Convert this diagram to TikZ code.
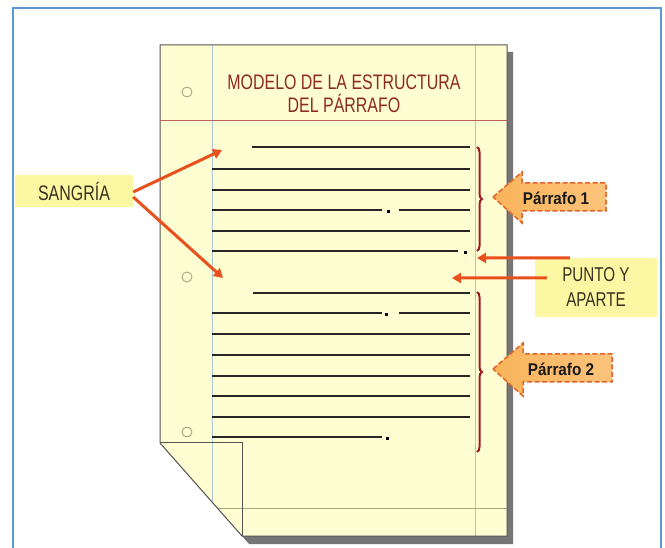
\documentclass[tikz,border=0pt]{standalone}
\usepackage{fontspec}
\setmainfont{Liberation Sans}
\newfontfamily\nf[FakeStretch=0.76]{Liberation Sans}
\newfontfamily\tagfont[FakeStretch=0.9]{Liberation Sans}
\usetikzlibrary{decorations.pathreplacing,arrows.meta}
\definecolor{frameblue}{HTML}{5B9BD5}
\definecolor{paperfill}{HTML}{FFFDD2}
\definecolor{paperedge}{HTML}{555550}
\definecolor{shadowgray}{HTML}{767676}
\definecolor{marginblue}{HTML}{A9C9D6}
\definecolor{titlered}{HTML}{8E2A22}
\definecolor{rulered}{HTML}{C0605A}
\definecolor{bracered}{HTML}{A01822}
\definecolor{arrowred}{HTML}{E8501E}
\definecolor{labelfill}{HTML}{FCF7A2}
\definecolor{labeltext}{HTML}{3A3020}
\definecolor{tagfill}{HTML}{FAB45A}
\definecolor{tagedge}{HTML}{E2642A}
\definecolor{holeedge}{HTML}{A8A888}
\definecolor{footline}{HTML}{A8A880}
\tikzset{
  textline/.style={draw=black!85, line width=1.2pt},
  dotmark/.style={fill=black},
  hole/.style={draw=holeedge, line width=0.9pt},
  margin/.style={draw=marginblue, line width=0.8pt},
  redarrow/.style={draw=arrowred, line width=3pt, -{Triangle[length=9pt,width=10pt]}},
  labelbox/.style={fill=labelfill, text=labeltext, font=\nf\fontsize{21}{24}\selectfont, align=center, inner sep=0pt},
  tagshape/.style={left color=tagfill, right color=tagfill!80!white, draw=tagedge, line width=1.5pt, dash pattern=on 5pt off 2.5pt},
  tagtext/.style={font=\tagfont\bfseries\fontsize{17}{19}\selectfont, text=black!90},
  parbrace/.style={draw=bracered, line width=2pt, decorate, decoration={brace, amplitude=5pt}}
}
\begin{document}
\begin{tikzpicture}[x=1pt,y=-1pt]
\useasboundingbox (0,0) rectangle (665,548);
\fill[white] (0,0) rectangle (665,548);
% outer frame
\draw[frameblue, line width=2pt] (13,8) rectangle (661,575);
% shadow
\fill[shadowgray] (166,52) -- (513,52) -- (513,544) -- (249,544) -- (166,450) -- cycle;
% paper
\fill[paperfill] (160,45) -- (507,45) -- (507,536) -- (242,536) -- (160,443) -- cycle;
\begin{scope}
\clip (160,45) -- (507,45) -- (507,536) -- (242,536) -- (160,443) -- cycle;
\draw[margin] (212,45) -- (212,540);
\draw[margin] (475,45) -- (475,540);
\draw[draw=footline, line width=0.9pt] (160,508) -- (507,508);
\end{scope}
\draw[paperedge, line width=1pt] (160,45) -- (507,45) -- (507,536) -- (242,536) -- (160,443) -- cycle;
\draw[paperedge, line width=1pt] (160,443) -- (242,443) -- (242,536);
% title
\draw[rulered, line width=0.9pt] (160,120) -- (507,120);
\node[text=titlered, font=\nf\fontsize{21}{23}\selectfont, align=center] (title) at (344,94) {MODELO DE LA ESTRUCTURA\\DEL PÁRRAFO};
% holes
\draw[hole] (187,92) circle (5);
\draw[hole] (187,277) circle (5);
\draw[hole] (187,432) circle (5);
% paragraph 1
\draw[textline] (252,147) -- (470,147);
\foreach \yy in {169,190,231} {\draw[textline] (212,\yy) -- (470,\yy);}
\draw[textline] (212,210) -- (382,210);
\fill[dotmark] (386.5,210.5) rectangle (389.5,213.5);
\draw[textline] (399,210) -- (470,210);
\draw[textline] (212,251) -- (458,251);
\fill[dotmark] (463.5,251.5) rectangle (466.5,254.5);
% paragraph 2
\draw[textline] (253,293) -- (470,293);
\draw[textline] (212,313) -- (382,313);
\fill[dotmark] (384.5,313.5) rectangle (387.5,316.5);
\draw[textline] (399,313) -- (470,313);
\foreach \yy in {334,355,376,396,417} {\draw[textline] (212,\yy) -- (470,\yy);}
\draw[textline] (212,437) -- (382,437);
\fill[dotmark] (385.5,437.5) rectangle (388.5,440.5);
% braces
\draw[parbrace] (477,147) -- (477,251);
\draw[parbrace] (477,292) -- (477,452);
% Parrafo tags
\draw[tagshape] (493,197) -- (522,172) -- (522,183) -- (606,183) -- (606,211) -- (522,211) -- (522,223) -- cycle;
\node[tagtext] (p1) at (556,198) {Párrafo 1};
\draw[tagshape] (493,369) -- (523,343) -- (523,354) -- (612,354) -- (612,382) -- (523,382) -- (523,396) -- cycle;
\node[tagtext] (p2) at (561,369) {Párrafo 2};
% SANGRIA
\node[labelbox, minimum width=118pt, minimum height=32pt] (sangria) at (74,191) {SANGRÍA};
\coordinate (s1) at (222,150);
\coordinate (s2) at (223,278);
\draw[redarrow] ([yshift=-1pt]sangria.east) -- (s1);
\draw[redarrow] ([yshift=-6pt]sangria.east) -- (s2);
% PUNTO Y APARTE
\node[labelbox, minimum width=122pt, minimum height=59pt, font=\nf\fontsize{20}{25}\selectfont] (punto) at (596,287.5) {PUNTO Y\\APARTE};
\coordinate (pa1) at (477,258);
\coordinate (pa2) at (452,278);
\draw[redarrow] ([xshift=35pt]punto.north west) -- (pa1);
\draw[redarrow] ([xshift=12pt,yshift=-20pt]punto.north west) -- (pa2);
\end{tikzpicture}
\end{document}
